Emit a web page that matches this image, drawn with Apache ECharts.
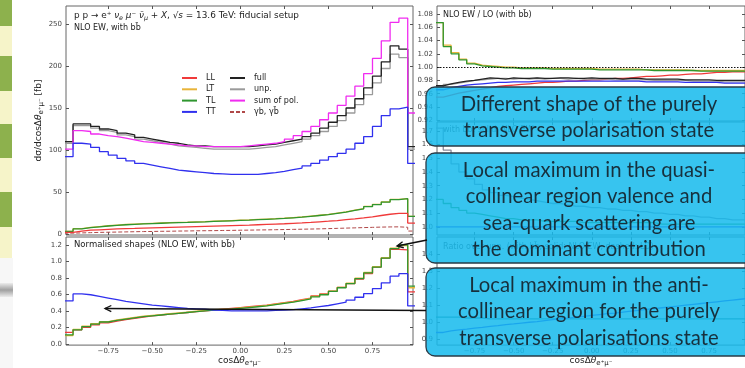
<!DOCTYPE html>
<html>
<head>
<meta charset="utf-8">
<script src="https://cdn.jsdelivr.net/npm/echarts@6/dist/echarts.min.js"></script>
<style>
  html, body { margin: 0; padding: 0; background: #fff; }
  #chart { width: 745px; height: 368px; }
</style>
</head>
<body>
<div id="chart"></div>
<script>
// bin edges of the cos(dtheta) histogram, 40 bins of width 0.05
const binEdges = Array.from({ length: 41 }, (_, i) => +(-1 + 0.05 * i).toFixed(2));
const xTicks = [-0.75, -0.5, -0.25, 0, 0.25, 0.5, 0.75];

// upper left: differential distributions [fb]
const distLL = [2, 3.5, 4.5, 5, 5.5, 6, 6.3, 6.6, 7, 7.3, 7.6, 7.9, 8.2, 8.5, 8.8, 9.1, 9.4, 9.7, 10, 10.3, 10.6, 11, 11.4, 11.8, 12.2, 12.7, 13.2, 13.8, 14.5, 15.2, 16, 17, 18, 19.2, 20.5, 22, 23.5, 24.5, 24.5, 13];
const distLT = [3, 6.3, 7.8, 8.8, 9.8, 10.6, 11.3, 11.8, 12.3, 12.7, 13.1, 13.5, 13.8, 14.1, 14.5, 14.8, 15.2, 15.6, 16, 16.4, 16.8, 17.3, 17.8, 18.3, 18.9, 19.6, 20.3, 21.3, 22.3, 23.3, 24.8, 26.3, 28.3, 30.3, 32.8, 35.3, 38.3, 41.3, 42, 21];
const distTL = [3, 6, 7.5, 8.5, 9.5, 10.3, 11, 11.5, 12, 12.4, 12.8, 13.2, 13.5, 13.8, 14.2, 14.5, 14.9, 15.3, 15.7, 16.1, 16.5, 17, 17.5, 18, 18.6, 19.3, 20, 21, 22, 23, 24.5, 26, 28, 30, 32.5, 35, 38, 41, 42, 21];
const distTT = [92, 108, 107, 103, 98, 94, 90, 87, 84, 82, 80, 78, 76, 75, 74, 73, 72, 71.5, 71, 71, 71, 71, 72, 73, 74.5, 76.5, 78.5, 81, 84, 88, 92, 96, 101, 108, 116, 128, 141, 149, 151, 84];
const distFull = [110, 131, 131, 128, 125, 123, 120, 118, 115, 113, 111, 109, 108, 106, 105, 105, 104, 104, 104, 104, 104, 105, 106, 107, 109, 111, 113, 116, 120, 126, 133, 141, 150, 161, 174, 188, 205, 224, 220, 104];
const distUnp = [108, 129, 129, 126, 123, 121, 118, 116, 113, 111, 109, 107, 105, 104, 103, 102, 101, 101, 101, 101, 101, 102, 103, 104, 106, 108, 110, 113, 117, 122, 128, 135, 144, 154, 166, 180, 197, 214, 210, 101];
const distSum = [101, 123, 122, 119, 117, 116, 114, 112, 110, 109, 108, 107, 106, 105, 105, 104, 104, 104, 104, 104, 105, 106, 107, 108, 110, 113, 117, 122, 128, 136, 144, 153, 164, 176, 191, 209, 230, 252, 257, 144];
const distGb = [1, 1.3, 1.6, 1.9, 2.1, 2.3, 2.5, 2.7, 2.9, 3, 3.2, 3.3, 3.5, 3.6, 3.8, 3.9, 4, 4.2, 4.3, 4.5, 4.6, 4.8, 4.9, 5.1, 5.3, 5.5, 5.7, 5.9, 6.1, 6.4, 6.7, 7, 7.3, 7.6, 7.9, 8.2, 8.4, 8.5, 8, 3.5];

// lower left: normalised shapes
const normLL = [0.14, 0.17, 0.2, 0.23, 0.255, 0.275, 0.295, 0.31, 0.325, 0.34, 0.35, 0.36, 0.37, 0.38, 0.39, 0.4, 0.41, 0.42, 0.43, 0.44, 0.45, 0.46, 0.47, 0.485, 0.5, 0.515, 0.535, 0.555, 0.58, 0.605, 0.64, 0.685, 0.73, 0.785, 0.85, 0.93, 1.04, 1.145, 1.14, 0.63];
const normLT = [0.1, 0.175, 0.215, 0.245, 0.27, 0.29, 0.305, 0.32, 0.335, 0.345, 0.355, 0.365, 0.375, 0.385, 0.395, 0.405, 0.415, 0.42, 0.425, 0.435, 0.445, 0.455, 0.465, 0.48, 0.495, 0.51, 0.53, 0.55, 0.575, 0.6, 0.64, 0.685, 0.735, 0.795, 0.865, 0.935, 1.045, 1.16, 1.19, 0.68];
const normTL = [0.11, 0.17, 0.21, 0.24, 0.265, 0.285, 0.3, 0.315, 0.33, 0.34, 0.35, 0.36, 0.37, 0.38, 0.39, 0.4, 0.41, 0.415, 0.42, 0.43, 0.44, 0.45, 0.46, 0.475, 0.49, 0.505, 0.525, 0.545, 0.57, 0.595, 0.635, 0.68, 0.73, 0.79, 0.86, 0.93, 1.04, 1.155, 1.2, 0.7];
const normTT = [0.52, 0.605, 0.595, 0.575, 0.555, 0.535, 0.515, 0.5, 0.485, 0.47, 0.46, 0.45, 0.44, 0.43, 0.425, 0.42, 0.41, 0.405, 0.4, 0.4, 0.4, 0.4, 0.4, 0.405, 0.41, 0.415, 0.425, 0.435, 0.45, 0.465, 0.485, 0.505, 0.53, 0.565, 0.61, 0.67, 0.74, 0.82, 0.85, 0.46];

// upper right: NLO EW / LO
const kLL = [0.955, 0.958, 0.961, 0.963, 0.965, 0.967, 0.969, 0.971, 0.972, 0.973, 0.974, 0.975, 0.976, 0.977, 0.977, 0.978, 0.979, 0.979, 0.98, 0.981, 0.981, 0.982, 0.983, 0.983, 0.984, 0.985, 0.986, 0.986, 0.987, 0.988, 0.988, 0.989, 0.99, 0.99, 0.991, 0.992, 0.992, 0.993, 0.993, 0.993];
const kLT = [1.067, 1.033, 1.022, 1.012, 1.006, 1.003, 1.002, 1.001, 1, 1, 0.999, 0.999, 0.999, 0.999, 0.998, 0.998, 0.998, 0.998, 0.998, 0.998, 0.997, 0.997, 0.997, 0.997, 0.997, 0.997, 0.996, 0.996, 0.996, 0.996, 0.996, 0.996, 0.995, 0.995, 0.995, 0.995, 0.995, 0.995, 0.995, 0.995];
const kTL = [1.067, 1.031, 1.02, 1.011, 1.005, 1.002, 1.001, 1, 0.999, 0.999, 0.998, 0.998, 0.998, 0.998, 0.997, 0.997, 0.997, 0.997, 0.997, 0.997, 0.996, 0.996, 0.996, 0.996, 0.996, 0.996, 0.996, 0.995, 0.995, 0.995, 0.995, 0.995, 0.995, 0.994, 0.994, 0.994, 0.994, 0.994, 0.994, 0.994];
const kTT = [0.966, 0.969, 0.971, 0.973, 0.974, 0.975, 0.976, 0.977, 0.977, 0.978, 0.978, 0.978, 0.979, 0.979, 0.979, 0.979, 0.979, 0.979, 0.979, 0.979, 0.979, 0.979, 0.979, 0.979, 0.979, 0.979, 0.978, 0.978, 0.978, 0.978, 0.978, 0.977, 0.977, 0.977, 0.977, 0.977, 0.976, 0.976, 0.976, 0.976];
const kFull = [0.972, 0.975, 0.977, 0.979, 0.98, 0.982, 0.984, 0.983, 0.982, 0.984, 0.983, 0.983, 0.984, 0.983, 0.983, 0.984, 0.984, 0.983, 0.983, 0.984, 0.983, 0.983, 0.983, 0.982, 0.983, 0.983, 0.982, 0.982, 0.982, 0.982, 0.982, 0.981, 0.981, 0.981, 0.981, 0.98, 0.98, 0.98, 0.98, 0.98];
const kUnp = [0.97, 0.974, 0.976, 0.978, 0.98, 0.981, 0.982, 0.983, 0.983, 0.982, 0.983, 0.982, 0.983, 0.982, 0.983, 0.983, 0.982, 0.983, 0.982, 0.982, 0.982, 0.982, 0.981, 0.981, 0.981, 0.981, 0.981, 0.98, 0.98, 0.98, 0.98, 0.98, 0.979, 0.979, 0.979, 0.979, 0.978, 0.978, 0.978, 0.978];

// middle right (mostly hidden)
const midGrey = [1.72, 1.56, 1.46, 1.4, 1.35, 1.31, 1.27, 1.25, 1.23, 1.22, 1.21, 1.2, 1.19, 1.18, 1.17, 1.17, 1.16, 1.15, 1.15, 1.14, 1.14, 1.13, 1.13, 1.12, 1.12, 1.11, 1.11, 1.1, 1.1, 1.09, 1.09, 1.08, 1.08, 1.07, 1.07, 1.06, 1.06, 1.05, 1.05, 1.05];
const midGreen = [1.2, 1.17, 1.14, 1.12, 1.1, 1.09, 1.08, 1.07, 1.06, 1.06, 1.05, 1.05, 1.05, 1.04, 1.04, 1.04, 1.04, 1.04, 1.03, 1.03, 1.03, 1.03, 1.03, 1.03, 1.03, 1.03, 1.03, 1.03, 1.02, 1.02, 1.02, 1.02, 1.02, 1.02, 1.02, 1.02, 1.02, 1.02, 1.02, 1.02];
const midBlue = [1, 1, 1, 1, 1, 1, 1, 1, 1, 1, 1, 1, 1, 1, 1, 1, 1, 1, 1, 1, 1, 1, 1, 1, 1, 1, 1, 1, 1, 1, 1, 1, 1, 1, 1, 1, 1, 1, 1, 1];

// lower right (mostly hidden)
const botBlue = [0.94, 0.95, 0.955, 0.96, 0.966, 0.97, 0.976, 0.98, 0.986, 0.99, 0.995, 1, 1.004, 1.01, 1.015, 1.02, 1.024, 1.03, 1.035, 1.04, 1.045, 1.05, 1.054, 1.06, 1.065, 1.07, 1.075, 1.08, 1.085, 1.09, 1.095, 1.1, 1.105, 1.11, 1.115, 1.12, 1.125, 1.13, 1.135, 1.14];
const botTeal = [1.03, 1.03, 1.03, 1.025, 1.025, 1.025, 1.02, 1.02, 1.02, 1.02, 1.02, 1.02, 1.02, 1.02, 1.02, 1.02, 1.02, 1.02, 1.02, 1.02, 1.02, 1.02, 1.02, 1.02, 1.02, 1.02, 1.02, 1.02, 1.02, 1.02, 1.02, 1.02, 1.02, 1.02, 1.02, 1.02, 1.02, 1.02, 1.02, 1.02];

const colors = {
  LL: '#f03a3a', LT: '#e8b43a', TL: '#2f962f', TT: '#3030ee',
  full: '#222222', unp: '#9a9a9a', sum: '#f02cf0', gb: '#b04848',
};
const FONT = 'DejaVu Sans';
const X_MIN = -0.99, X_MAX = 0.98;

const toSteps = (values) =>
  values.map((v, i) => [binEdges[i], v]).concat([[binEdges[40], values[39]]]);

const grids = [
  { left: 66, top: 6, width: 347, height: 229 },   // distribution
  { left: 66, top: 237, width: 347, height: 110 }, // normalised
  { left: 437, top: 6, width: 347, height: 115 },  // NLO/LO
  { left: 437, top: 122, width: 347, height: 113 },
  { left: 437, top: 237, width: 347, height: 110 },
].map((g) => ({ ...g, show: true, borderColor: '#666', borderWidth: 1, backgroundColor: 'transparent' }));

const yRanges = [
  { min: -1.2, max: 271.4, ticks: [0, 50, 100, 150, 200, 250], digits: 0 },
  { min: -0.015, max: 1.295, ticks: [0, 0.2, 0.4, 0.6, 0.8, 1.0, 1.2], digits: 1 },
  { min: 0.919, max: 1.092, ticks: [0.92, 0.94, 0.96, 0.98, 1.0, 1.02, 1.04, 1.06, 1.08], digits: 2 },
  { min: 0.94, max: 1.765, ticks: [1.0, 1.1, 1.2, 1.3, 1.4, 1.5, 1.6, 1.7], digits: 1 },
  { min: 0.866, max: 1.5, ticks: [0.9, 1.0, 1.1, 1.2, 1.3, 1.4], digits: 1 },
];

const tickStyle = (values) => ({ inside: true, length: 3, customValues: values, lineStyle: { color: '#555' } });
const subRich = {
  sub: { fontSize: 7, fontFamily: FONT, color: '#222', verticalAlign: 'bottom', padding: [6, 0, 0, 0] },
  n: { fontSize: 9, fontFamily: FONT, color: '#222' },
  i: { fontSize: 9, fontFamily: FONT, color: '#222', fontStyle: 'italic' },
};
const cosLabel = '{n|cosΔ}{i|θ}{sub|e⁺μ⁻}';

const xAxis = [];
const yAxis = [];
grids.forEach((g, gi) => {
  const labelled = gi === 1 || gi === 4;
  const xBase = {
    type: 'value', gridIndex: gi, min: X_MIN, max: X_MAX,
    splitLine: { show: false }, axisLine: { show: false, onZero: false }, axisTick: tickStyle(xTicks),
  };
  xAxis.push({
    ...xBase, position: 'bottom',
    axisLabel: {
      show: labelled, customValues: xTicks, fontSize: 7, fontFamily: FONT, color: '#444', margin: 3,
      formatter: (v) => v.toFixed(2).replace('-', '−'),
    },
    name: labelled ? cosLabel : '', nameLocation: 'middle', nameGap: 8,
    nameTextStyle: { rich: subRich },
  });
  xAxis.push({ ...xBase, position: 'top', axisLabel: { show: false } });

  const r = yRanges[gi];
  const yBase = {
    type: 'value', gridIndex: gi, min: r.min, max: r.max,
    splitLine: { show: false }, axisLine: { show: false, onZero: false }, axisTick: tickStyle(r.ticks),
  };
  yAxis.push({
    ...yBase, position: 'left',
    axisLabel: {
      customValues: r.ticks, fontSize: 7, fontFamily: FONT, color: '#444', margin: 4,
      formatter: (v) => v.toFixed(r.digits),
    },
    name: gi === 0 ? '{n|dσ/dcosΔ}{i|θ}{sub|e⁺μ⁻}{n| [fb]}' : '',
    nameLocation: 'middle', nameGap: 10, nameRotate: 90,
    nameTextStyle: { rich: subRich },
  });
  yAxis.push({ ...yBase, position: 'right', axisLabel: { show: false } });
});

const hist = (name, values, gi, color, extra = {}) => ({
  type: 'line', name, step: 'end', symbol: 'none', silent: true,
  xAxisIndex: 2 * gi, yAxisIndex: 2 * gi,
  data: toSteps(values),
  lineStyle: { width: 1.3, color, ...(extra.lineStyle || {}) },
  itemStyle: { color },
  z: extra.z || 2,
});

const series = [
  hist('γb, γb̄', distGb, 0, colors.gb, { lineStyle: { type: [4, 2], width: 1 } }),
  hist('LT', distLT, 0, colors.LT),
  hist('TL', distTL, 0, colors.TL),
  hist('LL', distLL, 0, colors.LL),
  hist('unp.', distUnp, 0, colors.unp),
  hist('full', distFull, 0, colors.full),
  hist('sum of pol.', distSum, 0, colors.sum),
  hist('TT', distTT, 0, colors.TT),

  hist('LL', normLL, 1, colors.LL),
  hist('LT', normLT, 1, colors.LT),
  hist('TL', normTL, 1, colors.TL),
  hist('TT', normTT, 1, colors.TT),

  hist('LL', kLL, 2, colors.LL),
  hist('unp.', kUnp, 2, colors.unp),
  hist('full', kFull, 2, colors.full),
  hist('TT', kTT, 2, colors.TT),
  hist('LT', kLT, 2, colors.LT),
  hist('TL', kTL, 2, colors.TL),
  {
    type: 'line', xAxisIndex: 4, yAxisIndex: 4, data: [], silent: true,
    markLine: {
      symbol: 'none', silent: true, label: { show: false },
      lineStyle: { color: '#111', type: [1.5, 1.5], width: 1 },
      data: [{ yAxis: 1.0 }],
    },
  },

  hist('', midGrey, 3, '#8a8a9a'),
  hist('', midGreen, 3, colors.TL),
  hist('', midBlue, 3, colors.TT),

  hist('', botTeal, 4, '#2a7a7a'),
  hist('', botBlue, 4, colors.TT),
];

const legendBase = {
  orient: 'vertical', itemWidth: 15, itemHeight: 8, itemGap: 3.3,
  itemStyle: { opacity: 0 },
  textStyle: { fontSize: 8, fontFamily: FONT, color: '#222', padding: [0, 0, 0, 4] },
  selectedMode: false, padding: 0,
};

// annotation graphics
const text = (x, y, str, size, extra = {}) => ({
  type: 'text', x, y, z: extra.z || 50,
  style: {
    text: str, fontSize: size, fontFamily: extra.font || FONT, fill: extra.fill || '#222',
    align: extra.align || 'left', verticalAlign: 'middle', rich: extra.rich,
  },
});

const stripes = [
  [0, 26, '#8db14d'], [26, 56, '#f6f4c9'], [56, 91, '#8db14d'], [91, 124, '#f6f4c9'],
  [124, 158, '#8db14d'], [158, 192, '#f6f4c9'], [192, 227, '#8db14d'], [227, 258, '#f6f4c9'],
].map(([y0, y1, c]) => ({ type: 'rect', z: 0, shape: { x: 0, y: y0, width: 12, height: y1 - y0 }, style: { fill: c } }));

const box = (y, h) => ({
  type: 'rect', z: 100,
  shape: { x: 426, y, width: 340, height: h, r: 9 },
  style: { fill: 'rgba(22,186,236,0.86)', stroke: '#2a3b47', lineWidth: 1.3 },
});
const boxFont = { font: 'Lato', fill: '#17303d', align: 'center', z: 101 };
const boxLines = [
  [104, 'Different shape of the purely'], [130, 'transverse polarisation state'],
  [170, 'Local maximum in the quasi-'], [196.5, 'collinear region valence and'],
  [223, 'sea-quark scattering are'], [249.5, 'the dominant contribution'],
  [285, 'Local maximum in the anti-'], [311.5, 'collinear region for the purely'],
  [338, 'transverse polarisations state'],
];

const arrow = (x1, y1, x2, y2) => {
  const a = Math.atan2(y2 - y1, x2 - x1);
  const L = 7, s = 0.45;
  return [
    { type: 'polyline', z: 102, shape: { points: [[x1, y1], [x2, y2]] }, style: { stroke: '#111', lineWidth: 1.6 } },
    {
      type: 'polyline', z: 102,
      shape: { points: [[x2 - L * Math.cos(a - s), y2 - L * Math.sin(a - s)], [x2, y2], [x2 - L * Math.cos(a + s), y2 - L * Math.sin(a + s)]] },
      style: { stroke: '#111', lineWidth: 1.3, fill: null },
    },
  ];
};

const titleRich = {
  n: { fontSize: 8.9, fontFamily: FONT, color: '#222' },
  i: { fontSize: 8.9, fontFamily: FONT, color: '#222', fontStyle: 'italic' },
  sub: { fontSize: 6.3, fontFamily: FONT, color: '#222', fontStyle: 'italic', verticalAlign: 'bottom', padding: [5, 0, 0, 0] },
};

const graphic = [
  ...stripes,
  { type: 'rect', z: 0, shape: { x: 0, y: 258, width: 13, height: 110 }, style: { fill: '#f7f7f7' } },
  {
    type: 'rect', z: 0, shape: { x: 0, y: 283, width: 13, height: 14 },
    style: { fill: new echarts.graphic.LinearGradient(0, 0, 0, 1, [
      { offset: 0, color: '#ececec' }, { offset: 0.5, color: '#a0a0a0' }, { offset: 1, color: '#ececec' }]) },
  },
  text(74, 16, '{n|p p → e⁺ }{i|ν}{sub|e}{n| }{i|μ}{n|⁻ }{i|ν̄}{sub|μ}{n| + }{i|X}{n|, √}{i|s}{n| = 13.6 TeV: fiducial setup}', 8.9, { rich: titleRich }),
  text(74, 28, 'NLO EW, with bb̄', 8),
  text(74, 245, 'Normalised shapes (NLO EW, with bb̄)', 8.5),
  text(443, 15, 'NLO EW / LO (with bb̄)', 8),
  text(443, 130, 'with bb̄, solid: NLO EW', 8, { fill: '#444' }),
  text(443, 247, 'Ratio over unp. (with bb̄, solid: NLO EW, dashed: LO)', 8, { fill: '#444' }),
  box(87, 59),
  box(153, 110),
  box(268, 88),
  ...boxLines.map(([y, s]) => text(589, y, s, 20.3, boxFont)),
  ...arrow(427, 240, 397, 246),
  ...arrow(426, 310.5, 105, 308.5),
];

const chart = echarts.init(document.getElementById('chart'), null, { renderer: 'canvas' });
chart.setOption({
  animation: false,
  backgroundColor: '#ffffff',
  grid: grids,
  xAxis,
  yAxis,
  legend: [
    { ...legendBase, left: 181, top: 74, data: ['LL', 'LT', 'TL', 'TT'] },
    { ...legendBase, left: 229, top: 74, data: ['full', 'unp.', 'sum of pol.', 'γb, γb̄'] },
  ],
  series,
  graphic,
});
</script>
</body>
</html>
